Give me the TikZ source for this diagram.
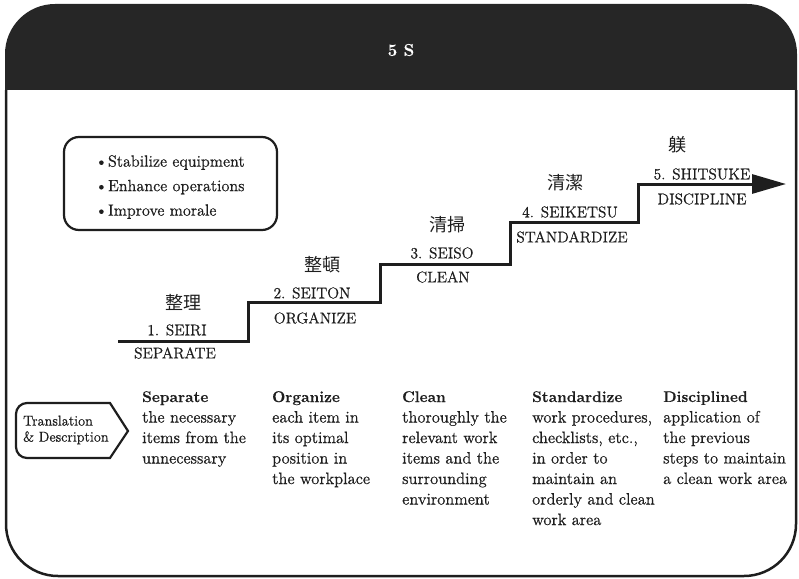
\documentclass[tikz,border=0pt]{standalone}
\usepackage{fontspec}
\setmainfont{lmroman12-regular.otf}[BoldFont=lmroman12-bold.otf,
  UprightFeatures={FakeBold=0.6}, BoldFeatures={FakeBold=0.3}]
\newfontfamily\cjk{Noto Sans CJK JP}
\usetikzlibrary{arrows.meta}
\definecolor{ink}{HTML}{1E1E1E}
\definecolor{hdr}{HTML}{262626}
\newcommand\steptitle[1]{{\fontsize{15.5}{20.5}\selectfont\bfseries #1}}
\begin{document}
\begin{tikzpicture}[x=1pt,y=-1pt,
  kanji/.style={font=\cjk\fontsize{18}{20}\selectfont, text=ink, inner sep=0},
  romaji/.style={font=\fontsize{15.5}{17}\selectfont, text=ink, inner sep=0},
  desc/.style={font=\fontsize{16.5}{20.5}\selectfont, text=ink, inner sep=0,
    anchor=north west, align=left},
  stair/.style={draw=ink, line width=3pt, line join=miter},
  panel/.style={draw=ink, line width=2.2pt}]
\useasboundingbox (0,0) rectangle (799,578);

% header band and framed body
\fill[hdr, rounded corners=50pt] (5,220) -- (5,4) -- (797,4) -- (797,220) -- cycle;
\filldraw[fill=white, draw=ink, line width=2.5pt, rounded corners=52pt]
  (6,90) -- (6,576) -- (796,576) -- (796,90);
\node[font=\bfseries\fontsize{17}{20}\selectfont, text=white, inner sep=0] (title) at (401,50) {5 S};

% goals box
\node[panel, rounded corners=15pt, minimum width=213pt, minimum height=93pt, inner sep=0]
  (goals) at (170.5,183.5) {};
\node[font=\fontsize{16.2}{24.5}\selectfont, text=ink, align=left, anchor=west, inner sep=0]
  (goaltext) at (95,187) {\textbullet\hspace{0.5pt}Stabilize equipment\\
  \textbullet\hspace{0.5pt}Enhance operations\\ \textbullet\hspace{0.5pt}Improve morale};

% staircase with arrow
\coordinate (s0) at (118,341);
\coordinate (s1) at (248,341);
\coordinate (s2) at (248,302);
\coordinate (s3) at (380,302);
\coordinate (s4) at (380,264);
\coordinate (s5) at (510,264);
\coordinate (s6) at (510,222);
\coordinate (s7) at (638,222);
\coordinate (s8) at (638,184);
\coordinate (tip) at (786,184);
\draw[stair] (s0) -- (s1) -- (s2) -- (s3) -- (s4) -- (s5) -- (s6) -- (s7) -- (s8) -- ++(100,0);
\draw[stair, -{Triangle[length=34pt,width=19pt]}] (s8) -- (tip);

% step labels
\node[kanji] (k1) at (183,302) {整理};
\node[romaji] (r1) at (177,330) {1. SEIRI};
\node[romaji] (e1) at (175,353) {SEPARATE};
\node[kanji] (k2) at (322,265) {整頓};
\node[romaji] (r2) at (312,293) {2. SEITON};
\node[romaji] (e2) at (315,318) {ORGANIZE};
\node[kanji] (k3) at (447,225) {清掃};
\node[romaji] (r3) at (442,253) {3. SEISO};
\node[romaji] (e3) at (443,277) {CLEAN};
\node[kanji] (k4) at (565,183) {清潔};
\node[romaji] (r4) at (570,212) {4. SEIKETSU};
\node[romaji] (e4) at (572,237) {STANDARDIZE};
\node[kanji] (k5) at (677,145) {躾};
\node[romaji] (r5) at (702,174) {5. SHITSUKE};
\node[romaji] (e5) at (702,199) {DISCIPLINE};

% translation tag
\draw[panel] (60,403) -- (110,403) -- (128,431) -- (110,458) -- (60,458)
  [rounded corners=11pt] -- (16,458) -- (16,403) -- cycle;
\node[font=\fontsize{14.3}{16}\selectfont, text=ink, align=left, anchor=west, inner sep=0]
  (tag) at (23,430) {Translation\\\& Description};

% descriptions
\node[desc] (d1) at (142,391) {\steptitle{Separate}\\the necessary\\items from the\\unnecessary};
\node[desc] (d2) at (272,391) {\steptitle{Organize}\\each item in\\its optimal\\position in\\the workplace};
\node[desc] (d3) at (402,391) {\steptitle{Clean}\\thoroughly the\\relevant work\\items and the\\surrounding\\environment};
\node[desc] (d4) at (532,391) {\steptitle{Standardize}\\work procedures,\\checklists, etc.,\\in order to\\maintain an\\orderly and clean\\work area};
\node[desc] (d5) at (663,391) {\steptitle{Disciplined}\\application of\\the previous\\steps to maintain\\a clean work area};
\end{tikzpicture}
\end{document}
